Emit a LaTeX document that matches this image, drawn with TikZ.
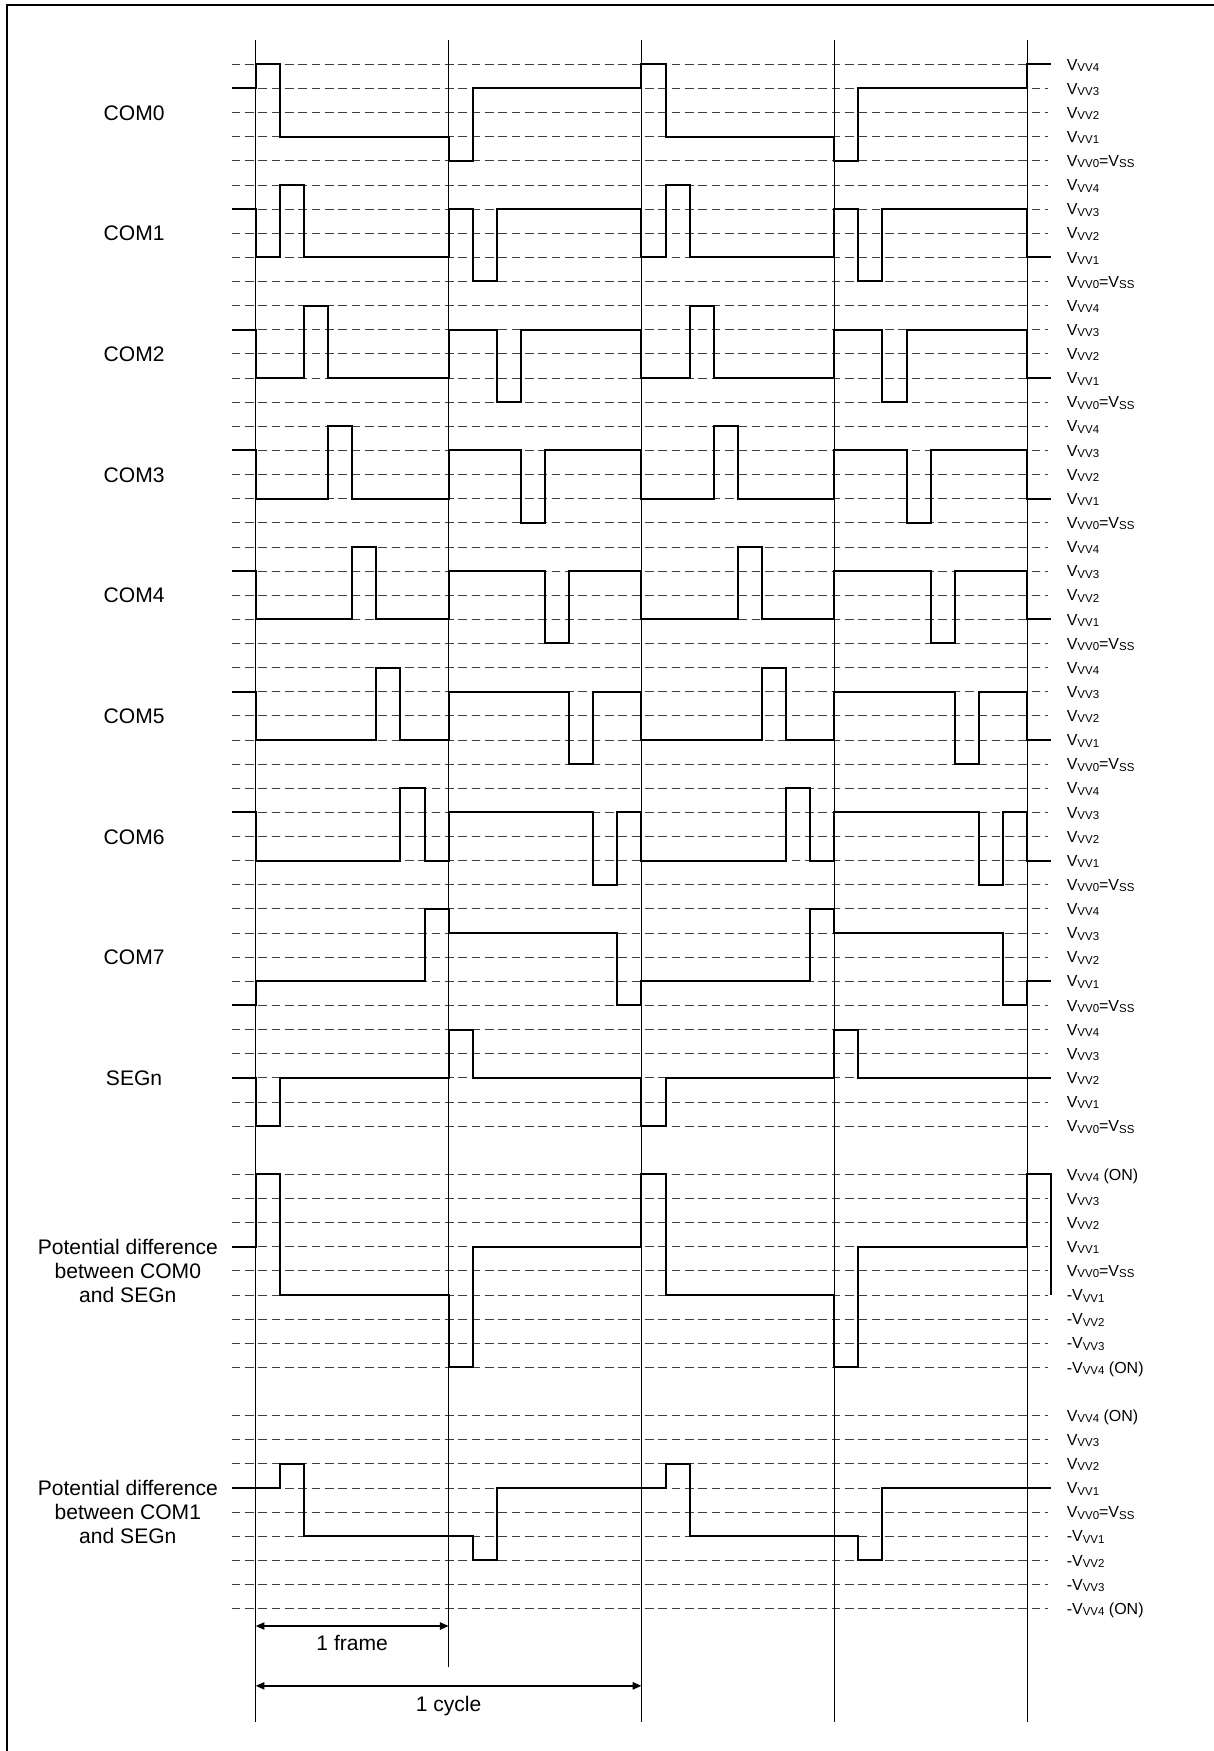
\documentclass[tikz,border=0pt]{standalone}
\usepackage{fontspec}
\setmainfont{Liberation Sans}
\usetikzlibrary{arrows.meta}
\newcommand\vsub[1]{{\fontsize{8.6}{9}\selectfont\raisebox{-1pt}{#1}}}
\tikzset{
  wave/.style={line width=1.5pt, line join=miter},
  dashline/.style={black!75, line width=0.6pt, dash pattern=on 6.5pt off 3.5pt},
  vline/.style={line width=0.65pt},
  dim/.style={line width=1.1pt, {Triangle[length=6.5pt,width=5.5pt]}-{Triangle[length=6.5pt,width=5.5pt]}},
  lbl/.style={inner sep=0pt, font=\fontsize{15.8}{18}\selectfont, text height=11.3pt, text depth=0pt},
  rlbl/.style={inner sep=0pt, anchor=west, font=\fontsize{12}{13}\selectfont, text height=8.6pt, text depth=0pt},
}
\begin{document}
\begin{tikzpicture}[x=0.75pt,y=-0.75pt]
\useasboundingbox (0,0) rectangle (1213,1751);
\fill[white] (0,0) rectangle (1213,1751);
\draw[line width=1.6pt] (6.7,1760) |- (1222,5);
\begin{scope}[shift={(191.85pt,-48.225pt)},x=18.075pt,y=-18.0975pt]
  % dashed level lines
  \foreach \k in {0,...,44} \draw[dashline] (-1,\k) -- (32.87,\k);
  \foreach \k in {46,...,54} \draw[dashline] (-1,\k) -- (32.87,\k);
  \foreach \k in {56,...,64} \draw[dashline] (-1,\k) -- (32.87,\k);
  % vertical frame lines
  \foreach \t in {0,16,24,32} \draw[vline] (\t,-1.007) -- (\t,68.7);
  \draw[vline] (8,-1.007) -- (8,66.42);
  % COM0
  \draw[wave] (-1,1) -| (0,0) -| (1,3) -| (8,4) -| (9,1) -| (16,0) -| (17,3) -| (24,4) -| (25,1) -| (32,0) -- (33,0);
  % COM1..COM6
  \foreach \i in {1,...,6}{
    \pgfmathtruncatemacro\o{5*\i}
    \draw[wave] (-1,\o+1) -| (0,\o+3) -| (\i,\o) -| (\i+1,\o+3) -| (8,\o+1) -| (8+\i,\o+4) -| (9+\i,\o+1) -| (16,\o+3) -| (16+\i,\o) -| (17+\i,\o+3) -| (24,\o+1) -| (24+\i,\o+4) -| (25+\i,\o+1) -| (32,\o+3) -- (33,\o+3);
  }
  % COM7
  \draw[wave] (-1,39) -| (0,38) -| (7,35) -| (8,36) -| (15,39) -| (16,38) -| (23,35) -| (24,36) -| (31,39) -| (32,38) -- (33,38);
  % SEGn
  \draw[wave] (-1,42) -| (0,44) -| (1,42) -| (8,40) -| (9,42) -| (16,44) -| (17,42) -| (24,40) -| (25,42) -- (33,42);
  % COM0 - SEGn
  \draw[wave] (-1,49) -| (0,46) -| (1,51) -| (8,54) -| (9,49) -| (16,46) -| (17,51) -| (24,54) -| (25,49) -| (32,46) -| (33,51);
  % COM1 - SEGn
  \draw[wave] (-1,59) -| (1,58) -| (2,61) -| (9,62) -| (10,59) -| (17,58) -| (18,61) -| (25,62) -| (26,59) -- (33,59);
  % left labels
  \foreach \i in {0,...,7} \node[lbl] (com\i) at (-5.05,5*\i+2) {COM\i};
  \node[lbl] (segn) at (-5.05,42) {SEGn};
  \node[lbl] (pdA1) at (-5.31,49) {Potential difference};
  \node[lbl] (pdA2) at (-5.31,50) {between COM0};
  \node[lbl] (pdA3) at (-5.31,51) {and SEGn};
  \node[lbl] (pdB1) at (-5.31,59) {Potential difference};
  \node[lbl] (pdB2) at (-5.31,60) {between COM1};
  \node[lbl] (pdB3) at (-5.31,61) {and SEGn};
  % right labels for COM/SEG groups
  \foreach \g in {0,...,8}{
    \pgfmathtruncatemacro\o{5*\g}
    \node[rlbl] (r\g a) at (33.64,\o) {V\vsub{VV4}};
    \node[rlbl] (r\g b) at (33.64,\o+1) {V\vsub{VV3}};
    \node[rlbl] (r\g c) at (33.64,\o+2) {V\vsub{VV2}};
    \node[rlbl] (r\g d) at (33.64,\o+3) {V\vsub{VV1}};
    \node[rlbl] (r\g e) at (33.64,\o+4) {V\vsub{VV0}=V\vsub{SS}};
  }
  % right labels for difference groups
  \foreach \o/\n in {46/p,56/q}{
    \node[rlbl] (\n a) at (33.64,\o) {V\vsub{VV4} (ON)};
    \node[rlbl] (\n b) at (33.64,\o+1) {V\vsub{VV3}};
    \node[rlbl] (\n c) at (33.64,\o+2) {V\vsub{VV2}};
    \node[rlbl] (\n d) at (33.64,\o+3) {V\vsub{VV1}};
    \node[rlbl] (\n e) at (33.64,\o+4) {V\vsub{VV0}=V\vsub{SS}};
    \node[rlbl] (\n f) at (33.64,\o+5) {-V\vsub{VV1}};
    \node[rlbl] (\n g) at (33.64,\o+6) {-V\vsub{VV2}};
    \node[rlbl] (\n h) at (33.64,\o+7) {-V\vsub{VV3}};
    \node[rlbl] (\n i) at (33.64,\o+8) {-V\vsub{VV4} (ON)};
  }
  % dimension arrows
  \coordinate (f0) at (0,64.72);
  \coordinate (f1) at (8,64.72);
  \draw[dim] (f0) -- (f1);
  \node[lbl] (frame) at (4,65.43) {1 frame};
  \coordinate (c0) at (0,67.2);
  \coordinate (c1) at (16,67.2);
  \draw[dim] (c0) -- (c1);
  \node[lbl] (cycle) at (8,67.95) {1 cycle};
\end{scope}
\end{tikzpicture}
\end{document}
